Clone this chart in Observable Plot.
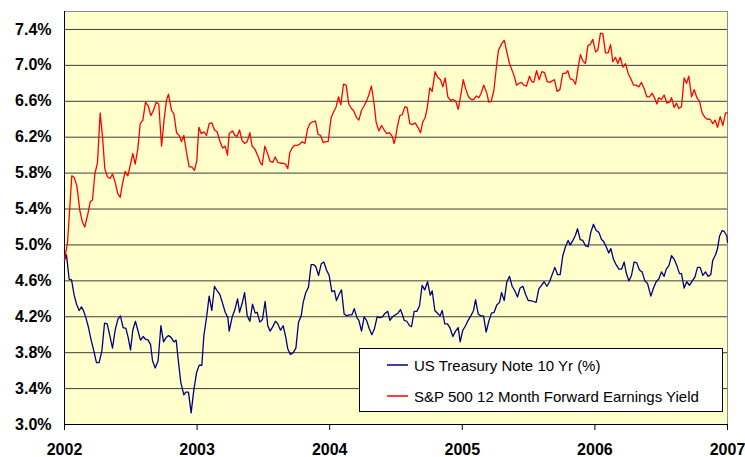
<!DOCTYPE html>
<html>
<head>
<meta charset="utf-8">
<script src="https://cdn.jsdelivr.net/npm/d3@7"></script>
<script src="https://cdn.jsdelivr.net/npm/@observablehq/plot@0.6"></script>
<style>
  html, body { margin: 0; padding: 0; background: #fff; }
  #wrap { position: relative; width: 745px; height: 457px; }
  #legend {
    position: absolute; left: 359px; top: 348px; width: 362px; height: 62px;
    background: #fff; border: 1px solid #000;
    font-family: "Liberation Sans", Arial, sans-serif; font-size: 15px; color: #000;
  }
  #legend .row { position: absolute; left: 0; height: 20px; display: flex; align-items: center; }
  #legend svg { margin-left: 27px; margin-right: 6px; }
</style>
</head>
<body>
<div id="wrap"></div>
<script>
// Years since 2002-01-01 (x) and yields in % (y)
const yearTicks = [0, 1, 2, 3, 4, 5];
const yearLabels = ["2002", "2003", "2004", "2005", "2006", "2007"];
const yTicks = [3.0, 3.4, 3.8, 4.2, 4.6, 5.0, 5.4, 5.8, 6.2, 6.6, 7.0, 7.4];

const seriesNames = ["US Treasury Note 10 Yr (%)", "S&P 500 12 Month Forward Earnings Yield"];
const seriesColors = ["#000080", "#FF0000"];

const treasuryT = [0.000,0.015,0.035,0.053,0.073,0.091,0.111,0.128,0.143,0.161,0.181,0.201,0.221,0.241,0.261,0.282,0.302,0.322,0.339,0.362,0.382,0.402,0.422,0.442,0.463,0.480,0.498,0.515,0.535,0.553,0.573,0.593,0.611,0.631,0.649,0.664,0.684,0.706,0.727,0.747,0.767,0.784,0.804,0.825,0.842,0.860,0.877,0.900,0.915,0.935,0.955,0.975,0.996,1.016,1.036,1.051,1.071,1.091,1.111,1.131,1.151,1.171,1.192,1.212,1.232,1.242,1.265,1.285,1.305,1.320,1.340,1.358,1.378,1.398,1.418,1.438,1.453,1.473,1.493,1.513,1.533,1.551,1.571,1.591,1.609,1.629,1.649,1.669,1.684,1.704,1.725,1.745,1.765,1.785,1.800,1.820,1.840,1.860,1.880,1.895,1.916,1.936,1.956,1.976,1.996,2.016,2.036,2.051,2.071,2.089,2.109,2.129,2.147,2.167,2.185,2.205,2.220,2.240,2.260,2.278,2.298,2.318,2.338,2.358,2.378,2.398,2.418,2.438,2.454,2.474,2.494,2.514,2.534,2.549,2.562,2.582,2.602,2.617,2.637,2.657,2.677,2.697,2.717,2.738,2.758,2.773,2.793,2.813,2.833,2.848,2.868,2.888,2.909,2.929,2.949,2.969,2.984,3.004,3.024,3.044,3.064,3.085,3.100,3.120,3.140,3.160,3.180,3.200,3.220,3.240,3.260,3.281,3.296,3.316,3.336,3.356,3.376,3.396,3.416,3.436,3.457,3.477,3.497,3.517,3.537,3.557,3.577,3.597,3.617,3.638,3.658,3.678,3.698,3.718,3.738,3.758,3.778,3.798,3.814,3.834,3.854,3.869,3.889,3.909,3.929,3.949,3.969,3.989,4.010,4.030,4.050,4.065,4.085,4.105,4.120,4.140,4.160,4.181,4.201,4.221,4.236,4.256,4.276,4.296,4.316,4.336,4.356,4.377,4.397,4.422,4.442,4.462,4.482,4.502,4.522,4.538,4.558,4.578,4.598,4.618,4.638,4.653,4.673,4.693,4.713,4.734,4.754,4.774,4.794,4.814,4.834,4.854,4.874,4.889,4.910,4.925,4.940,4.960,4.975,4.995,5.000];
const treasuryV = [4.83,4.89,4.62,4.61,4.44,4.34,4.27,4.31,4.27,4.19,4.08,3.94,3.82,3.69,3.69,3.82,4.13,4.12,4.01,3.85,4.05,4.17,4.21,4.08,4.07,3.97,3.83,4.05,4.15,4.05,3.94,3.98,3.95,3.94,3.89,3.71,3.63,3.71,4.10,3.92,3.97,3.99,3.97,3.92,3.94,3.69,3.47,3.33,3.36,3.36,3.13,3.38,3.58,3.66,3.66,3.99,4.19,4.43,4.27,4.54,4.49,4.45,4.35,4.25,4.19,4.04,4.20,4.28,4.40,4.25,4.35,4.47,4.21,4.15,4.34,4.24,4.25,4.14,4.17,4.37,4.10,4.04,4.09,4.15,4.12,4.05,4.10,3.97,3.84,3.78,3.80,3.85,4.14,4.21,4.36,4.47,4.53,4.78,4.78,4.76,4.66,4.79,4.81,4.72,4.66,4.48,4.49,4.38,4.45,4.50,4.23,4.21,4.22,4.22,4.29,4.19,4.16,4.04,4.20,4.16,4.07,4.00,4.07,4.20,4.19,4.20,4.24,4.26,4.16,4.20,4.22,4.24,4.28,4.22,4.16,4.15,4.10,4.09,4.26,4.26,4.32,4.55,4.50,4.59,4.44,4.49,4.27,4.24,4.21,4.27,4.12,4.12,4.07,3.98,4.04,4.08,3.92,4.05,4.10,4.16,4.21,4.27,4.39,4.23,4.21,4.21,4.03,4.15,4.24,4.25,4.33,4.36,4.47,4.38,4.59,4.65,4.54,4.49,4.42,4.52,4.54,4.45,4.38,4.38,4.37,4.36,4.51,4.55,4.59,4.54,4.59,4.67,4.75,4.67,4.67,4.88,4.98,5.05,5.00,5.05,5.11,5.18,5.06,5.05,4.99,4.98,5.14,5.23,5.16,5.14,5.06,5.04,4.98,4.91,4.96,4.84,4.78,4.73,4.73,4.81,4.69,4.60,4.66,4.81,4.80,4.72,4.70,4.60,4.57,4.43,4.52,4.59,4.62,4.70,4.65,4.73,4.77,4.88,4.84,4.77,4.68,4.68,4.52,4.59,4.55,4.60,4.64,4.75,4.75,4.66,4.70,4.65,4.67,4.83,4.89,4.96,5.10,5.16,5.15,5.10,5.03];

const earningsT = [0.000,0.023,0.055,0.073,0.093,0.116,0.136,0.153,0.174,0.194,0.211,0.229,0.249,0.269,0.287,0.304,0.324,0.344,0.362,0.382,0.402,0.420,0.437,0.458,0.478,0.498,0.515,0.533,0.553,0.571,0.591,0.611,0.631,0.651,0.671,0.691,0.711,0.732,0.752,0.769,0.784,0.807,0.825,0.845,0.865,0.882,0.900,0.918,0.940,0.960,0.980,0.998,1.013,1.031,1.051,1.071,1.091,1.111,1.131,1.151,1.171,1.192,1.212,1.229,1.242,1.267,1.285,1.302,1.320,1.340,1.360,1.378,1.398,1.415,1.435,1.456,1.476,1.491,1.511,1.531,1.551,1.571,1.589,1.609,1.629,1.647,1.667,1.684,1.699,1.717,1.735,1.755,1.772,1.792,1.813,1.833,1.850,1.868,1.893,1.913,1.931,1.951,1.968,1.988,2.011,2.029,2.049,2.066,2.084,2.104,2.124,2.144,2.164,2.182,2.202,2.220,2.240,2.260,2.280,2.295,2.315,2.335,2.350,2.371,2.391,2.411,2.431,2.451,2.471,2.486,2.496,2.509,2.529,2.547,2.567,2.584,2.604,2.624,2.645,2.665,2.685,2.702,2.720,2.735,2.755,2.773,2.795,2.813,2.836,2.853,2.871,2.891,2.911,2.931,2.951,2.969,2.989,3.007,3.027,3.047,3.067,3.087,3.107,3.125,3.142,3.162,3.183,3.200,3.218,3.238,3.258,3.273,3.293,3.316,3.333,3.354,3.374,3.394,3.409,3.429,3.447,3.464,3.484,3.507,3.524,3.539,3.560,3.580,3.600,3.620,3.640,3.660,3.680,3.695,3.715,3.736,3.758,3.778,3.796,3.814,3.834,3.854,3.874,3.891,3.909,3.929,3.947,3.964,3.984,4.005,4.022,4.042,4.060,4.080,4.100,4.118,4.135,4.155,4.173,4.191,4.211,4.231,4.251,4.271,4.291,4.311,4.331,4.351,4.372,4.392,4.412,4.432,4.452,4.467,4.482,4.502,4.522,4.543,4.563,4.578,4.598,4.615,4.633,4.653,4.673,4.691,4.708,4.729,4.749,4.769,4.789,4.809,4.829,4.849,4.869,4.889,4.907,4.925,4.945,4.965,4.985,5.000];
const earningsV = [4.83,5.03,5.77,5.75,5.66,5.38,5.25,5.20,5.33,5.48,5.50,5.79,5.92,6.47,6.20,5.85,5.76,5.74,5.79,5.70,5.57,5.53,5.68,5.82,5.77,5.90,6.02,5.90,6.07,6.35,6.39,6.59,6.55,6.44,6.50,6.59,6.57,6.10,6.41,6.61,6.68,6.50,6.46,6.25,6.22,6.15,6.22,6.05,5.87,5.87,5.83,5.94,6.31,6.24,6.26,6.22,6.35,6.36,6.28,6.26,6.16,6.08,6.10,6.00,6.24,6.27,6.22,6.21,6.28,6.16,6.13,6.15,6.25,6.10,6.07,6.00,5.92,5.89,6.10,6.02,5.93,5.92,5.98,5.92,5.91,5.91,5.90,5.85,6.03,6.08,6.11,6.11,6.12,6.15,6.13,6.29,6.35,6.37,6.38,6.23,6.22,6.14,6.15,6.15,6.42,6.48,6.54,6.65,6.56,6.79,6.78,6.57,6.52,6.49,6.42,6.39,6.50,6.55,6.61,6.67,6.77,6.57,6.37,6.27,6.33,6.28,6.24,6.25,6.21,6.13,6.19,6.31,6.44,6.45,6.54,6.53,6.35,6.34,6.36,6.31,6.25,6.37,6.42,6.52,6.75,6.71,6.93,6.87,6.84,6.76,6.86,6.65,6.61,6.62,6.60,6.51,6.67,6.84,6.73,6.65,6.62,6.62,6.66,6.64,6.69,6.78,6.70,6.59,6.60,6.72,6.99,7.17,7.23,7.28,7.17,7.03,6.95,6.87,6.78,6.80,6.81,6.78,6.77,6.88,6.82,6.81,6.94,6.84,6.93,6.92,6.82,6.81,6.83,6.84,6.71,6.73,6.91,6.91,6.94,6.85,6.84,6.79,6.98,7.12,7.05,7.02,7.22,7.23,7.29,7.15,7.17,7.36,7.35,7.14,7.14,7.23,7.04,7.09,7.02,7.09,6.98,7.02,6.91,6.85,6.78,6.78,6.76,6.81,6.74,6.65,6.65,6.69,6.63,6.57,6.64,6.62,6.67,6.58,6.59,6.64,6.53,6.58,6.52,6.54,6.86,6.80,6.88,6.65,6.73,6.64,6.60,6.47,6.42,6.40,6.40,6.35,6.39,6.31,6.43,6.33,6.47,6.47];

const treasury = treasuryT.map((t, i) => ({t, v: treasuryV[i]}));
const earnings = earningsT.map((t, i) => ({t, v: earningsV[i]}));

const font = '"Liberation Sans", Arial, sans-serif';

const chart = Plot.plot({
  width: 745,
  height: 457,
  marginLeft: 64,
  marginRight: 18,
  marginTop: 11,
  marginBottom: 33,
  style: {background: "#fff", fontFamily: font, color: "#000"},
  x: {domain: [0, 5]},
  y: {domain: [3.0, 7.6]},
  marks: [
    Plot.frame({fill: "#FFFFCC", stroke: "#8c8c8c"}),
    Plot.gridY(yTicks, {stroke: "#3c3c3c", strokeOpacity: 1, strokeWidth: 1}),
    Plot.ruleX([0], {stroke: "#000", strokeWidth: 1}),
    Plot.ruleY([3.0], {stroke: "#000", strokeWidth: 1}),
    Plot.axisX({
      ticks: yearTicks,
      tickFormat: (d, i) => yearLabels[i],
      tickSize: 6,
      tickPadding: 13,
      fontSize: 16,
      fontWeight: "bold",
      label: null,
      stroke: "#000"
    }),
    Plot.axisY({
      ticks: yTicks,
      tickFormat: d => d.toFixed(1) + "%",
      tickSize: 0,
      tickPadding: 13,
      fontSize: 16,
      fontWeight: "bold",
      label: null
    }),
    Plot.line(treasury, {x: "t", y: "v", stroke: seriesColors[0], strokeWidth: 1.3}),
    Plot.line(earnings, {x: "t", y: "v", stroke: seriesColors[1], strokeWidth: 1.3})
  ]
});

const wrap = document.getElementById("wrap");
wrap.appendChild(chart);

// Legend box overlaid inside the plot area
const legend = document.createElement("div");
legend.id = "legend";
seriesNames.forEach((name, i) => {
  const row = document.createElement("div");
  row.className = "row";
  row.style.top = (i === 0 ? 6 : 37) + "px";
  row.innerHTML = `<svg width="21" height="4"><line x1="0" x2="21" y1="2" y2="2" stroke="${seriesColors[i]}" stroke-width="1.5"/></svg><span>${name.replace("&", "&amp;")}</span>`;
  legend.appendChild(row);
});
wrap.appendChild(legend);
</script>
</body>
</html>
